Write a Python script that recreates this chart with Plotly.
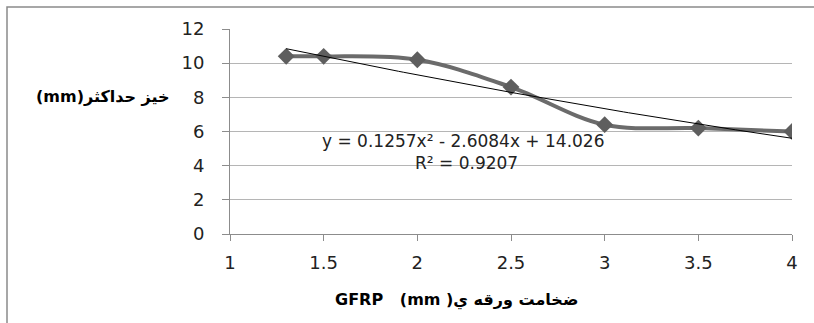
import numpy as np
import plotly.graph_objects as go

# Data
thickness = [1.3, 1.5, 2, 2.5, 3, 3.5, 4]
deflection = [10.4, 10.4, 10.2, 8.6, 6.4, 6.2, 6.0]

# Displayed polynomial trendline coefficients (a x^2 + b x + c)
trend_a, trend_b, trend_c = 0.1257, -2.6084, 14.026
r_squared = 0.9207

x_ticks = [1, 1.5, 2, 2.5, 3, 3.5, 4]
y_ticks = [0, 2, 4, 6, 8, 10, 12]

xt = np.linspace(min(thickness), max(thickness), 100)
yt = trend_a * xt**2 + trend_b * xt + trend_c

fig = go.Figure()
fig.add_trace(go.Scatter(
    x=thickness, y=deflection, mode="lines+markers",
    line=dict(color="#6b6b6b", width=4, shape="spline", smoothing=1.0),
    marker=dict(symbol="diamond", size=13, color="#5e5e5e"),
    showlegend=False, hoverinfo="skip"))
fig.add_trace(go.Scatter(
    x=xt, y=yt, mode="lines",
    line=dict(color="#000000", width=1),
    showlegend=False, hoverinfo="skip"))

font_main = "'DejaVu Sans', sans-serif"
tick_font = dict(family=font_main, size=18, color="#222222")

fig.update_layout(
    width=814, height=323,
    margin=dict(l=230, r=22, t=29, b=89),
    paper_bgcolor="white", plot_bgcolor="white",
    font=dict(family=font_main, size=16, color="#222222"),
    xaxis=dict(range=[1, 4], tickvals=x_ticks, ticktext=[str(v) for v in x_ticks],
               tickfont=tick_font,
               showgrid=False, zeroline=False, showline=True, linecolor="#8c8c8c",
               linewidth=1, ticks="outside", ticklen=6, tickcolor="#8c8c8c",
               ticklabelstandoff=6),
    yaxis=dict(range=[0, 12], tickvals=y_ticks, ticktext=[str(v) for v in y_ticks],
               tickfont=tick_font,
               showgrid=True, gridcolor="#b5b5b5", gridwidth=1, zeroline=False,
               showline=True, linecolor="#8c8c8c", linewidth=1, ticks="outside",
               ticklen=7, tickcolor="#8c8c8c", ticklabelstandoff=14),
    shapes=[dict(type="rect", xref="paper", yref="paper",
                 x0=(7 - 230) / 562, x1=1.2, y0=-0.8, y1=(234 - 7) / 205,
                 line=dict(color="#8a8a8a", width=1.5), fillcolor="rgba(0,0,0,0)",
                 layer="below")],
    annotations=[
        dict(xref="paper", yref="paper", x=(463 - 230) / 562, y=(234 - 141) / 205,
             text=f"y = {trend_a}x² - {abs(trend_b)}x + {trend_c}", showarrow=False,
             font=dict(size=17, color="#222222"), xanchor="center", yanchor="middle"),
        dict(xref="paper", yref="paper", x=(466 - 230) / 562, y=(234 - 163) / 205,
             text=f"R² = {r_squared}", showarrow=False,
             font=dict(size=17, color="#222222"), xanchor="center", yanchor="middle"),
        dict(xref="paper", yref="paper", x=(172 - 230) / 562, y=(234 - 97) / 205,
             text="<b>\u200e(mm)خیز حداکثر</b>", showarrow=False,
             font=dict(size=16, color="#000000", family="'DejaVu Sans', sans-serif"),
             xanchor="right", yanchor="middle"),
        dict(xref="paper", yref="paper", x=(456 - 230) / 562, y=(234 - 300) / 205,
             text="<b>\u200eGFRP   (mm )ضخامت ورقه ي</b>", showarrow=False,
             font=dict(size=16, color="#000000", family="'DejaVu Sans', sans-serif"),
             xanchor="center", yanchor="middle"),
    ],
)

fig.write_html("out.html")
